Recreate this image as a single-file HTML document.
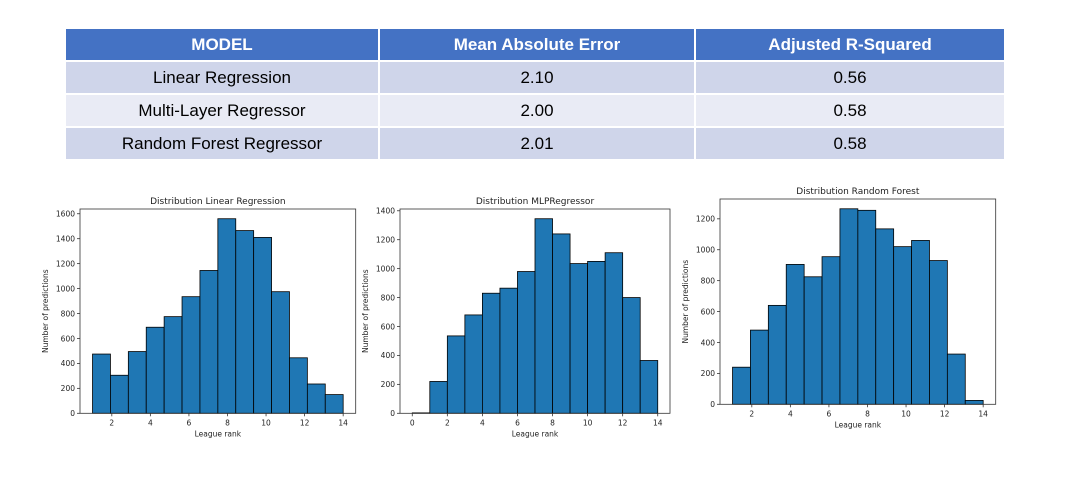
<!DOCTYPE html>
<html><head><meta charset="utf-8"><style>
body{margin:0;background:#fff;width:1074px;height:488px;overflow:hidden;position:relative;font-family:"Liberation Sans",sans-serif}
table{position:absolute;left:64px;top:27px;border-collapse:collapse;width:942px}
td,th{border:2px solid #fff;text-align:center;font-size:17px;color:#000;padding:0;height:31px}
th{background:#4472c4;color:#fff;font-weight:bold;font-size:17px}
tr.a td{background:#cfd5ea}tr.b td{background:#e9ebf5}
svg{position:absolute;left:0;top:0}
svg text{font-family:"DejaVu Sans",sans-serif;fill:#222}
</style></head><body>
<table>
<tr><th style="width:312px">MODEL</th><th style="width:314px">Mean Absolute Error</th><th>Adjusted R-Squared</th></tr>
<tr class="a"><td>Linear Regression</td><td>2.10</td><td>0.56</td></tr>
<tr class="b"><td>Multi-Layer Regressor</td><td>2.00</td><td>0.58</td></tr>
<tr class="a"><td>Random Forest Regressor</td><td>2.01</td><td>0.58</td></tr>
</table>
<svg id="s" width="1074" height="488"></svg>
<script>
const lrEdgesStart = 1;
const lrValues = [475,305,495,690,775,935,1145,1560,1465,1410,975,445,235,150];
const lrYTicks = [0,200,400,600,800,1000,1200,1400,1600];
const lrXTicks = [2,4,6,8,10,12,14];
const mlpEdgesStart = 0;
const mlpValues = [3,220,535,680,830,865,980,1345,1240,1035,1050,1110,800,365];
const mlpYTicks = [0,200,400,600,800,1000,1200,1400];
const mlpXTicks = [0,2,4,6,8,10,12,14];
const rfEdgesStart = 1;
const rfValues = [240,480,640,905,825,955,1265,1255,1135,1020,1060,930,325,25];
const rfYTicks = [0,200,400,600,800,1000,1200];
const rfXTicks = [2,4,6,8,10,12,14];
const NS='http://www.w3.org/2000/svg';
const svg=document.getElementById('s');
function mk(t,a,p){const e=document.createElementNS(NS,t);for(const k in a)e.setAttribute(k,a[k]);(p||svg).appendChild(e);return e;}
function hist(title,start,vals,yt,xt,L,R,T,B,xmin,xmax,name){
  const g=mk('g',{});
  
  
  const ymax=Math.max(...vals)*1.05;
  const n=vals.length, end=14, w=(end-start)/n;
  const X=v=>L+(v-xmin)/(xmax-xmin)*(R-L), Y=v=>B-v/ymax*(B-T);
  vals.forEach((v,i)=>{const x0=X(start+i*w),x1=X(start+(i+1)*w);
    const r=mk('rect',{x:x0,y:Y(v),width:x1-x0,height:B-Y(v),fill:'#1f77b4',stroke:'#000','stroke-width':0.8},g);
    
    });
  const f=mk('rect',{x:L,y:T,width:R-L,height:B-T,fill:'none',stroke:'#333','stroke-width':0.8},g);
  
  
  yt.forEach(v=>{mk('line',{x1:L-3,x2:L,y1:Y(v),y2:Y(v),stroke:'#333','stroke-width':0.8},g);
    const t=mk('text',{x:L-5,y:Y(v)+2.8,'font-size':7.5,'text-anchor':'end'},g);t.textContent=v;
    
    });
  xt.forEach(v=>{mk('line',{x1:X(v),x2:X(v),y1:B,y2:B+3,stroke:'#333','stroke-width':0.8},g);
    const t=mk('text',{x:X(v),y:B+12,'font-size':7.5,'text-anchor':'middle'},g);t.textContent=v;
    
    });
  const tt=mk('text',{x:(L+R)/2,y:T-5,'font-size':9,'text-anchor':'middle'},g);tt.textContent=title;
  
  
  const xl=mk('text',{x:(L+R)/2,y:B+23,'font-size':7.5,'text-anchor':'middle'},g);xl.textContent='League rank';
  
  
  const yx=L-32,yy=(T+B)/2;
  const yl=mk('text',{x:yx,y:yy,'font-size':7.5,'text-anchor':'middle',transform:`rotate(-90 ${yx} ${yy})`},g);yl.textContent='Number of predictions';
  
  
}
hist('Distribution Linear Regression',lrEdgesStart,lrValues,lrYTicks,lrXTicks,80,355.7,209,413.3,0.35,14.65,'hist-linear-regression');
hist('Distribution MLPRegressor',mlpEdgesStart,mlpValues,mlpYTicks,mlpXTicks,400,670,209,413.3,-0.7,14.7,'hist-mlp-regressor');
hist('Distribution Random Forest',rfEdgesStart,rfValues,rfYTicks,rfXTicks,720,995.7,199,404.3,0.35,14.65,'hist-random-forest');
</script>
</body></html>
